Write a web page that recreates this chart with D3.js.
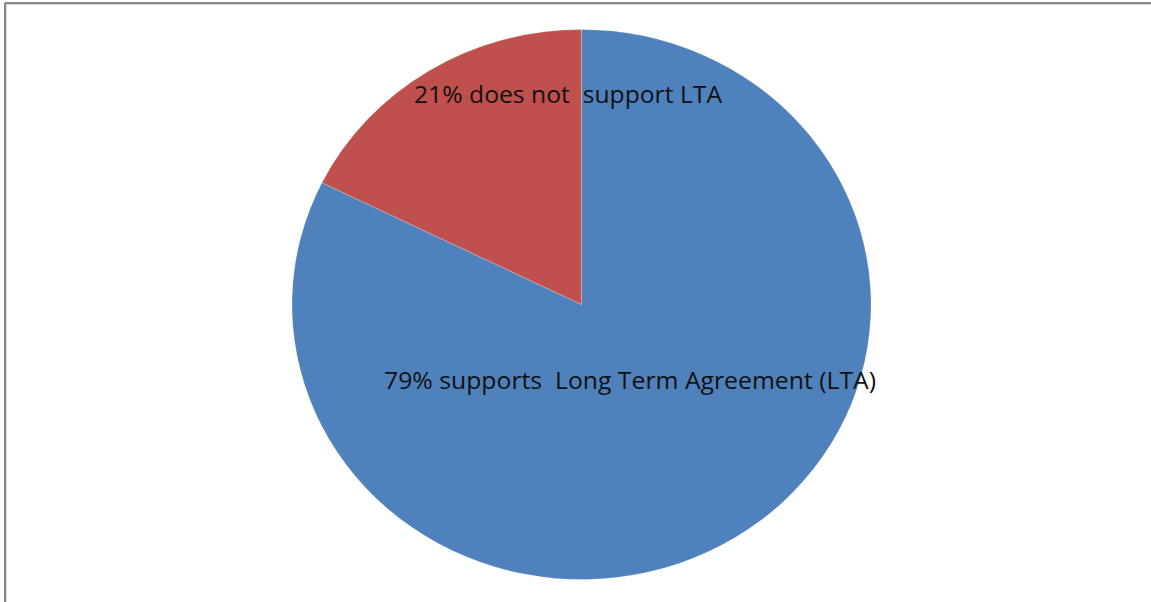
<!DOCTYPE html>
<html>
<head>
<meta charset="utf-8">
<script src="https://cdn.jsdelivr.net/npm/d3@7"></script>
<style>
  html, body { margin: 0; padding: 0; background: #fff; }
  svg { display: block; }
  text { white-space: pre; }
</style>
</head>
<body>
<svg id="chart" width="1151" height="602"></svg>
<script>
const categories = ["supports Long Term Agreement (LTA)", "does not support LTA"];
const values = [82.3, 17.7];
const labels = ["79% supports  Long Term Agreement (LTA)", "21% does not  support LTA"];
const colors = ["#4F81BD", "#C0504D"];

const W = 1151, H = 602;
const svg = d3.select("#chart");

// frame (left and top edges visible)
svg.append("line").attr("x1", 5).attr("y1", 3).attr("x2", W).attr("y2", 3)
  .attr("stroke", "#888").attr("stroke-width", 2);
svg.append("line").attr("x1", 5).attr("y1", 3).attr("x2", 5).attr("y2", H)
  .attr("stroke", "#888").attr("stroke-width", 2);
svg.append("line").attr("x1", 6.5).attr("y1", 4.5).attr("x2", W).attr("y2", 4.5)
  .attr("stroke", "#d8d8d8").attr("stroke-width", 1);
svg.append("line").attr("x1", 6.5).attr("y1", 4.5).attr("x2", 6.5).attr("y2", H)
  .attr("stroke", "#d8d8d8").attr("stroke-width", 1);

const cx = 581.5, cy = 304.5, rx = 289.5, ry = 275;

const pie = d3.pie().sort(null).value(d => d)(values);
const arc = d3.arc().innerRadius(0).outerRadius(ry);

const g = svg.append("g")
  .attr("transform", `translate(${cx},${cy}) scale(${rx / ry},1)`);

g.selectAll("path").data(pie).join("path")
  .attr("d", arc)
  .attr("fill", (d, i) => colors[i])
  .attr("stroke", "rgba(255,255,255,0.35)")
  .attr("stroke-width", 0.6);

// labels
const labelPos = [
  { x: cx - 197.5, y: cy + 84, w: 492 },
  { x: cx - 167.5, y: cy - 202, w: 308 }
];
svg.selectAll("text.lbl").data(labels).join("text")
  .attr("class", "lbl")
  .attr("x", (d, i) => labelPos[i].x)
  .attr("y", (d, i) => labelPos[i].y)
  .attr("textLength", (d, i) => labelPos[i].w)
  .attr("lengthAdjust", "spacingAndGlyphs")
  .attr("font-family", "'Open Sans', 'DejaVu Sans', sans-serif")
  .attr("font-size", 23)
  .attr("fill", "#111")
  .text(d => d);
</script>
</body>
</html>
